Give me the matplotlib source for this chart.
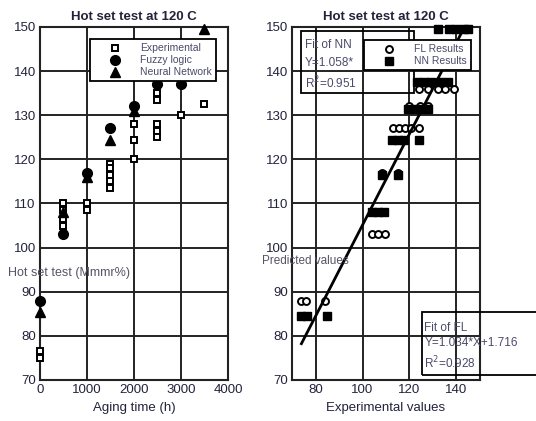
import matplotlib
matplotlib.use('Agg')
import matplotlib.pyplot as plt
from matplotlib.patches import Rectangle

plt.rcParams['font.family'] = ['Liberation Sans', 'DejaVu Sans']

# left panel: hot set test vs aging time
time_exp = [0, 0, 500, 500, 500, 500, 1000, 1000,
            1500, 1500, 1500, 1500, 1500, 2000, 2000, 2000,
            2500, 2500, 2500, 2500, 2500, 3000, 3500]
exp_vals = [76.5, 75, 110, 108.5, 106.5, 105, 110, 108.5,
            119, 118, 116.5, 115, 113.5, 128, 124.5, 120,
            135, 133.5, 128, 126.5, 125, 130, 132.5]
time_model = [0, 500, 1000, 1500, 2000, 2500, 3000, 3500]
fl_vals = [88, 103, 117, 127, 132, 137, 137, 141]
nn_vals = [85.5, 108, 116, 124.5, 131, 138, 138, 149.5]

# right panel: predicted vs experimental
fl_x = [74, 76, 84, 104, 106.5, 109.5, 108.5, 115,
        113, 115.5, 118, 120.5, 124, 120, 124.5, 128,
        124, 128, 132, 135, 139]
fl_y = [88, 88, 88, 103, 103, 103, 117, 117,
        127, 127, 127, 127, 127, 132, 132, 132,
        136, 136, 136, 136, 136]
nn_x = [74, 76.5, 85, 104, 106.5, 109, 108.5, 115,
        112.5, 115, 117.5, 124, 119.5, 122.5, 125, 128,
        123, 126, 129, 133, 136.5, 132, 137, 140, 143, 145]
nn_y = [84.5, 84.5, 84.5, 108, 108, 108, 116.5, 116.5,
        124.5, 124.5, 124.5, 124.5, 131.5, 131.5, 131.5, 131.5,
        137.5, 137.5, 137.5, 137.5, 137.5, 149.5, 149.5, 149.5, 149.5, 149.5]
fit_slope = 1.034
fit_icpt = 1.716
fit_x = [74, 143.5]

txt = '#22223a'

fig = plt.figure(figsize=(5.36, 4.21), dpi=100)
ax1 = fig.add_axes([0.0746, 0.0974, 0.3507, 0.8385])
ax2 = fig.add_axes([0.5448, 0.0974, 0.3507, 0.8385])

for ax in (ax1, ax2):
    ax.set_ylim(70, 150)
    ax.set_yticks(range(70, 151, 10))
    ax.grid(True, color='#222222', linewidth=1.4)
    ax.set_axisbelow(True)
    for s in ax.spines.values():
        s.set_linewidth(1.5)
        s.set_color('#222222')
    ax.tick_params(length=0, labelsize=9.5, labelcolor=txt, pad=3)
    ax.set_title('Hot set test at 120 C', fontsize=9.5, fontweight='bold',
                 color=txt, pad=5)

ax1.set_xlim(0, 4000)
ax1.set_xticks([0, 1000, 2000, 3000, 4000])
ax1.plot(time_exp, exp_vals, 's', ms=5, mfc='white', mec='black', mew=1.4,
         label='Experimental', clip_on=False, zorder=3)
ax1.plot(time_model, fl_vals, 'o', ms=7, color='black',
         label='Fuzzy logic', clip_on=False, zorder=3)
ax1.plot(time_model, nn_vals, '^', ms=7, color='black',
         label='Neural Network', clip_on=False, zorder=3)
ax1.set_xlabel('Aging time (h)', fontsize=9.5, color=txt, labelpad=4)
leg1 = ax1.legend(loc='upper left', bbox_to_anchor=(0.266, 0.966),
                  borderaxespad=0, fontsize=7.5, fancybox=False,
                  edgecolor='black', framealpha=1, borderpad=0.4,
                  handlelength=4.0, handletextpad=0.4, labelspacing=0.2)
leg1.get_frame().set_linewidth(1.3)
for t in leg1.get_texts():
    t.set_color('#4a4a6a')
fig.text(0.015, 1 - 273 / 421, 'Hot set test (Mmmr%)', fontsize=9,
         color='#555566', va='center', ha='left')

ax2.set_xlim(70, 150)
ax2.set_xticks([80, 100, 120, 140])
ax2.plot(fl_x, fl_y, 'o', ms=5, mfc='white', mec='black', mew=1.4,
         label='FL Results', clip_on=False, zorder=3)
ax2.plot(nn_x, nn_y, 's', ms=5.5, color='black',
         label='NN Results', clip_on=False, zorder=3)
ax2.plot(fit_x, [fit_slope * v + fit_icpt for v in fit_x], color='black',
         lw=2, zorder=3)
ax2.set_xlabel('Experimental values', fontsize=9.5, color=txt, labelpad=4)

ax2.add_patch(Rectangle((73.66, 134.97), 122.1 - 73.66, 149.16 - 134.97,
                        fill=False, ec='black', lw=1.3, zorder=4))
ax2.text(75.6, 145.9, 'Fit of NN', fontsize=8.5, color='#4a4a6a',
         va='center', zorder=4)
ax2.text(75.6, 141.8, 'Y=1.058*', fontsize=8.5, color='#4a4a6a',
         va='center', zorder=4)
ax2.text(75.6, 137.2, 'R$^2$=0.951', fontsize=8.5, color='#4a4a6a',
         va='center', zorder=4)

leg2 = ax2.legend(loc='upper left', bbox_to_anchor=(0.383, 0.963),
                  borderaxespad=0, fontsize=7.5, fancybox=False,
                  edgecolor='black', framealpha=1, borderpad=0.4,
                  handlelength=4.0, handletextpad=0.4, labelspacing=0.2)
leg2.get_frame().set_linewidth(1.3)
for t in leg2.get_texts():
    t.set_color('#4a4a6a')

ax2.add_patch(Rectangle((125.2, 71.1), 60, 85.5 - 71.1, fill=False,
                        ec='black', lw=1.3, clip_on=False, zorder=4))
ax2.text(126.3, 81.8, 'Fit of FL', fontsize=8.5, color='#4a4a6a',
         va='center', clip_on=False, zorder=4)
ax2.text(126.3, 78.4, 'Y=1.034*X+1.716', fontsize=8.5, color='#4a4a6a',
         va='center', clip_on=False, zorder=4)
ax2.text(126.3, 73.9, 'R$^2$=0.928', fontsize=8.5, color='#4a4a6a',
         va='center', clip_on=False, zorder=4)
fig.text(262 / 536, 1 - 261 / 421, 'Predicted values', fontsize=8.5,
         color='#555566', va='center', ha='left')

fig.savefig('out.png', dpi=100)
